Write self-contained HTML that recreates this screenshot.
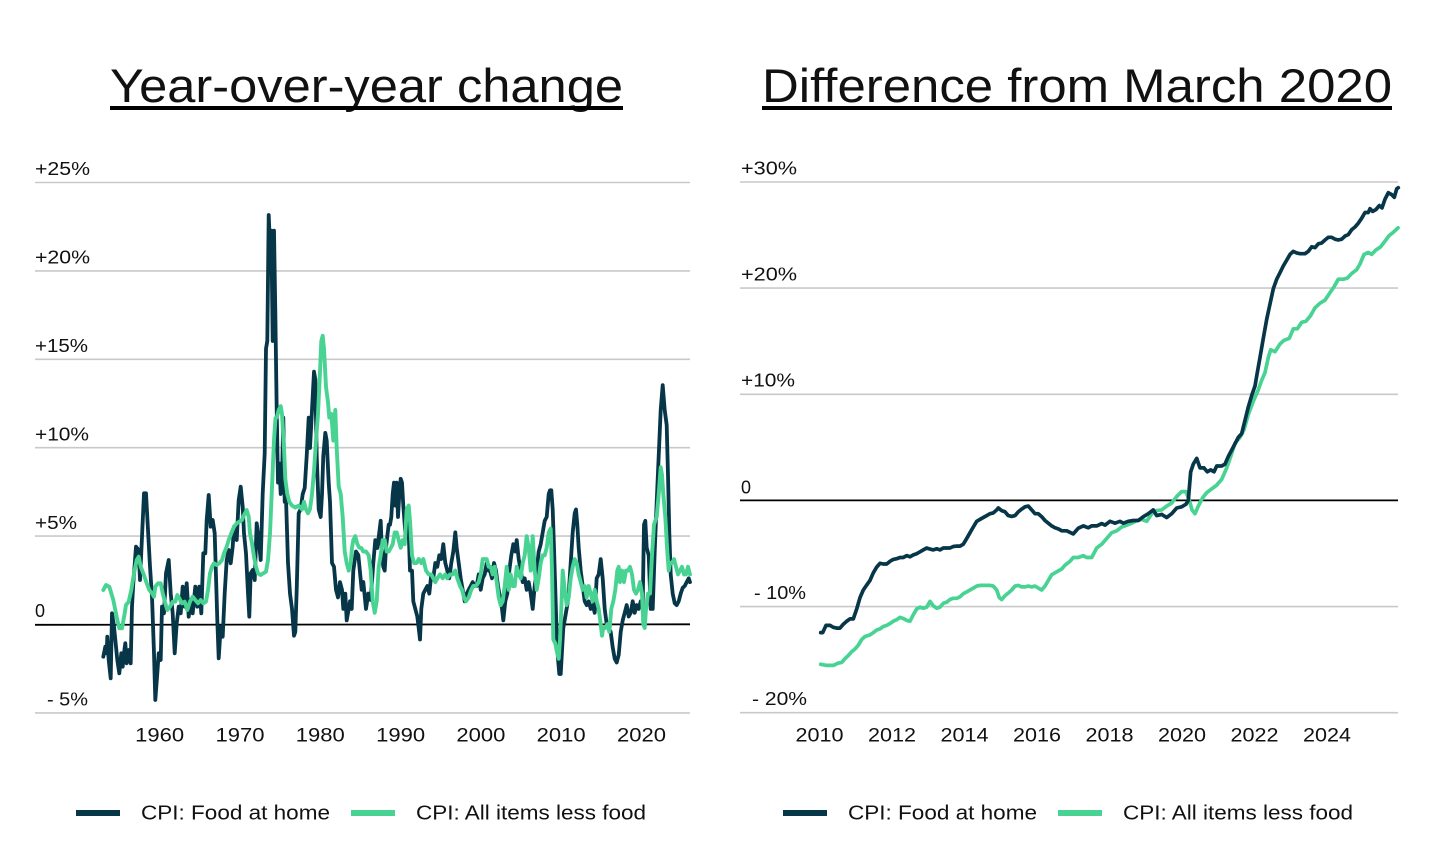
<!DOCTYPE html>
<html>
<head>
<meta charset="utf-8">
<style>
  html, body { margin: 0; padding: 0; background: #ffffff; }
  svg { display: block; }
  text { font-family: "Liberation Sans", "DejaVu Sans", sans-serif; fill: #111; }
</style>
</head>
<body>
<svg width="1450" height="850" viewBox="0 0 1450 850" xmlns="http://www.w3.org/2000/svg">
  <rect x="0" y="0" width="1450" height="850" fill="#ffffff"/>

  <!-- Titles -->
  <text x="110" y="102" font-size="47" textLength="513" lengthAdjust="spacingAndGlyphs">Year-over-year change</text>
  <rect x="110" y="106" width="513" height="4" fill="#000"/>
  <text x="762" y="102" font-size="47" textLength="630" lengthAdjust="spacingAndGlyphs">Difference from March 2020</text>
  <rect x="762" y="106" width="630" height="4" fill="#000"/>

  <!-- LEFT CHART gridlines -->
  <g stroke="#c9c9c9" stroke-width="1.6">
    <line x1="35" y1="182.5" x2="690" y2="182.5"/>
    <line x1="35" y1="270.9" x2="690" y2="270.9"/>
    <line x1="35" y1="359.3" x2="690" y2="359.3"/>
    <line x1="35" y1="447.7" x2="690" y2="447.7"/>
    <line x1="35" y1="536.1" x2="690" y2="536.1"/>
    <line x1="35" y1="712.9" x2="690" y2="712.9"/>
  </g>
  <line x1="35" y1="624.8" x2="690" y2="624.3" stroke="#000" stroke-width="1.8"/>

  <!-- LEFT y labels -->
  <g font-size="18">
    <text x="35" y="175" textLength="55" lengthAdjust="spacingAndGlyphs">+25%</text>
    <text x="35" y="263.5" textLength="55" lengthAdjust="spacingAndGlyphs">+20%</text>
    <text x="35" y="352" textLength="53" lengthAdjust="spacingAndGlyphs">+15%</text>
    <text x="35" y="440.5" textLength="54" lengthAdjust="spacingAndGlyphs">+10%</text>
    <text x="35" y="529" textLength="42" lengthAdjust="spacingAndGlyphs">+5%</text>
    <text x="35" y="617">0</text>
    <text x="47" y="705.5" textLength="41" lengthAdjust="spacingAndGlyphs">- 5%</text>
  </g>
  <!-- LEFT x labels -->
  <g font-size="19" text-anchor="middle">
    <text x="159.7" y="741.7" textLength="49" lengthAdjust="spacingAndGlyphs">1960</text>
    <text x="240" y="741.7" textLength="49" lengthAdjust="spacingAndGlyphs">1970</text>
    <text x="320.3" y="741.7" textLength="49" lengthAdjust="spacingAndGlyphs">1980</text>
    <text x="400.6" y="741.7" textLength="49" lengthAdjust="spacingAndGlyphs">1990</text>
    <text x="480.9" y="741.7" textLength="49" lengthAdjust="spacingAndGlyphs">2000</text>
    <text x="561.2" y="741.7" textLength="49" lengthAdjust="spacingAndGlyphs">2010</text>
    <text x="641.5" y="741.7" textLength="49" lengthAdjust="spacingAndGlyphs">2020</text>
  </g>

  <!-- LEFT series: food at home (dark) -->
  <polyline fill="none" stroke="#073649" stroke-width="3.8" stroke-linejoin="round" stroke-linecap="round" points="103.3,656.7 105.3,646.7 106.7,653.3 107.3,636.7 108.7,660 110.7,678.3 112,613.3 114,626.7 116,646.7 117.3,660 119.3,673.3 121.3,653.3 122.7,666.7 124,653.3 125.3,643.3 126.7,663.3 128.7,650 130.7,663.3 132,606.7 133.3,583.3 136,546.7 138.7,550 140,580 142,536.7 144,493.3 146,493.3 148,530 150,566.7 152,596.7 154,653.3 155.3,700 157.3,673.3 158.7,653.3 160.7,660 162,606.7 164,613.3 166,573.3 168.7,560 170.7,593.3 172.7,613.3 174.7,653.3 176.7,623.3 178.7,606.7 180.7,613.3 182.7,586.7 184.7,606.7 186.7,583.3 188.7,616.7 190.7,600 192.7,613.3 195.3,586.7 197.3,606.7 199.3,586.7 201.3,613.3 203.3,553.3 205.3,553.3 206.7,520 208.7,495 210.7,526.7 212.7,520 214.7,533.3 216,576.7 217.3,620 218.7,658.3 220.7,626.7 222.7,636.7 224.7,593.3 226.7,560 228.7,550 230.7,563.3 232.7,546.7 234,526.7 236.7,540 238.7,500 240.7,486.7 242.7,506.7 244,533.3 246,553.3 248,593.3 249.3,616.7 250.7,573.3 252.7,570 254.7,580 256.7,523.3 258.7,540 260.7,560 262.7,493.3 264.7,453.3 266,348.7 267.3,341 268.7,215 270,246 271.3,230.6 272.7,341 274,230.6 275.3,310.5 276.7,410 278,482.6 279.3,463.5 280.7,494 282,480 283.3,417.6 284.7,501.8 286,498 288,563 290,593.6 292,608.9 294,635.7 295.3,632 296.7,589.8 298.7,513.3 300.7,509 302.7,494.1 304.7,488 306.7,455.9 308.7,417.6 310,448 312,410 314,371.7 315.3,379.3 316.7,455.9 318.7,509.4 320.7,517 322,494.1 323.3,455.9 325.3,432.9 326.7,440.6 328.7,482.6 330,501.8 332,563 334,566.8 336,589.8 338,597.4 340,582.1 342,589.8 343.3,608.9 345.3,593.6 346.7,620.4 348.7,608.9 350,601.3 351.7,608.9 353.3,570.6 356,551.5 358.3,555 361.7,589.8 363.3,582 366,608.9 368.3,593.6 370.7,600 373.3,563 375.3,540.1 377.3,548 379.3,532.4 380.7,520.8 382,555.3 383.3,566.8 384.7,570.6 386,547.7 387.3,536.2 388.7,524.7 390,524.7 391.3,517 392.7,494.1 394,482.6 395.3,505.6 396.7,482.6 398,517 399.3,494.1 400.7,478.8 402,482.6 403.3,505.6 405.3,532.4 407.3,509.4 408.7,532 410,570.6 412,570.6 413.3,601.3 415.3,608.9 417.3,616.5 418.7,628 420,639.5 421.3,608.9 423.3,593.6 425.3,589.8 427.3,586 429.3,593.6 431.3,574.4 433.3,578 435.3,563 437.3,566.8 439.3,555.3 441.3,559 443.3,544.2 445.3,563 447.3,570.6 449.3,578.3 451.3,563 453.3,551.5 455.3,532.4 456.7,547.7 458.7,563 460.7,578.3 462.7,589.8 464.7,601.3 466.7,593.6 468.7,589.8 470.7,586 472.7,582.1 474.7,586 476.7,586 478.7,574.4 480.7,589.8 482.7,578.3 484.7,574.4 486.7,563 488.7,570.6 490,570.6 492,578.3 494,563 496,570.6 498,586 500,597.4 502,608.9 503.3,620.4 505.3,601.3 507.3,593.6 509.3,570.6 511.3,555.3 513.3,544.2 515.3,551.5 516.7,540.1 518.7,559.1 520.7,570.6 522.7,582.1 524.7,578.3 526.7,589.8 528.7,582.1 530.7,593.6 532.7,608.9 534.7,586 536.7,570.6 538.7,551.5 540.7,544.2 542.7,532.4 544.7,520.8 546.7,517 548.7,494.1 550,490.3 551.3,490.3 552.7,509.4 554,547.7 555.3,589.8 556.7,635.7 558,658.7 559.3,674 560.7,674 562,651 563.3,628 565.3,616.5 567.3,605 568.7,593.6 570.7,563 572.7,532.4 574.7,513.3 576,509.4 577.3,524.7 578.7,547.7 580.7,570.6 582.7,586 584.7,601.3 586.7,605.1 588.7,601.3 590.7,608.9 592.7,605.1 594.7,612.8 596.7,578.3 598.7,574.4 600.7,559.1 602.7,578.3 604.7,608.9 606.7,624.2 608.7,628 610.7,631.9 612.7,647.2 614.7,658.7 616.7,662.5 618.7,654.9 620.7,631.9 622.7,620.4 624.7,612.8 626.7,605.1 628.7,616.5 630.7,612.8 632.7,601.3 634.7,612.8 636.7,605.1 638.7,608.9 640.7,601.3 642.7,605.1 644,524.7 645.3,520.8 646.7,547.7 648.7,555.3 650.7,608.9 652.7,608.9 654.7,551.5 656.7,501.8 658.7,455.9 660.7,410 662.7,385.1 664.7,410 666.7,425.3 668,475 669.3,532.4 670.7,574.4 672.7,593.6 674.7,603.2 676.7,605.1 678.7,601.3 680.7,593.6 682.7,587.8 684.7,586 686.7,582.1 688.7,578.3 690,582.1"/>

  <!-- LEFT series: all items less food (green) -->
  <polyline fill="none" stroke="#48d393" stroke-width="3.9" stroke-linejoin="round" stroke-linecap="round" points="103.3,590 106,585 109.3,586.7 111.3,593.3 113.3,600 115.3,610 117.3,620 119.3,628.3 122,628.3 124.7,613.3 126,605 128.7,601.7 131.3,590 134,573.3 136.7,560 138.7,556.7 140.7,566.7 143.3,573.3 146.7,583.3 149.3,590 152,593.3 154,596.7 155.3,586.7 158,583.3 160.7,583.3 162.7,593.3 165.3,603.3 167.3,610 170,606.7 172.7,601.7 175.3,601.7 177.3,595 179.3,598.3 182,603.3 184.7,601.7 187.3,610 190,601.7 192.7,596.7 195.3,600 198,603.3 200.7,600 203.3,603.3 206,601.7 208,590 210,573.3 212,566.7 214,563.3 216.7,565 219.3,563.3 222,560 224,553.3 226.7,546.7 228.7,540 231.3,533.3 234,526.7 236.7,523.3 239.3,521.7 242,520 244,515 246.7,510 248.7,516.7 250,533.3 252,543.3 254,556.7 256,566.7 258,573.3 260.7,575 263.3,573.3 266,571.7 268,560 270,533.3 272,486.7 274,440 275.5,418 276.7,417.6 278.7,410 280.7,406.1 282,413.8 284,448.2 285.3,478.8 287.3,494.1 289.3,501.8 292,505.6 295.3,507.5 298.7,505.6 302,509.4 304,501.8 306,509.4 308,513.3 310,509 312,494.1 314,471.2 316,440.6 318,414.1 320,371.7 321.3,341 322.7,335.7 324,348.7 326,387 328,402.3 329.3,417.6 331.3,413.8 333.3,440.6 335.3,410 336.7,448.2 338.7,486.5 340.7,494.1 342.7,517 344.7,551.5 346.7,563 348.7,570.6 350.7,563 352,547.7 353.3,540.1 355.3,536.2 357.3,544 359.3,547.7 361.3,548 363.3,551.5 366,551.5 368.7,555.3 370.7,570.6 372.7,601.3 374.7,612.8 376.7,601.3 378.7,566.8 380.7,555.3 382.7,540.1 384.7,540.1 386.7,551.5 388.7,551.5 390.7,548 392.7,544.2 394.7,532.4 396.7,532.4 398.7,540.1 400.7,547.7 402.7,540.1 404.7,544.2 406.7,509.4 408.7,505.6 410,520.8 412,555.3 414,563 416.7,563 418.7,559 421.3,563 423.3,559 426,570.6 428.7,574.4 431.3,574.4 433.3,578.3 435.3,582.1 437.3,578.3 440,574.4 442.7,578.3 445.3,574.4 447.3,578.3 450,574.4 452.7,574.4 455.3,570.6 457.3,578.3 460,585.9 462,589.8 464,597.4 466,601.3 468.7,597.4 471.3,589.8 473.3,585.9 476,585.9 478.7,582.1 480.7,574.4 482.7,559.1 484.7,559.1 486.7,559.1 488.7,566.8 490.7,566.8 492.7,574.4 494.7,566.8 496.7,582 498.7,597.4 500.7,605.1 502.7,601.3 504.7,586 506.7,566.8 508.7,589.8 510.7,574.4 512.7,586 514.7,586 516.7,566.8 518.7,574.4 520.7,578.3 522.7,563 524.7,555.3 526.7,536.2 528.7,547.7 530.7,570.6 532.7,536.2 534.7,570.6 536.7,589.8 538.7,578.3 540.7,563 542.7,555.3 544.7,555.3 546.7,547.7 548.7,532.4 550.7,528.6 552,570.6 553.3,639.5 555.3,643.3 556.7,651 558.7,658.7 560,639.5 561.3,608.9 562.7,570.6 564.7,589.8 566.7,605.1 568.7,597.4 570.7,578.3 572.7,566.8 574.7,559.1 576.7,563 578.7,574.4 580.7,582.1 582.7,589.8 584.7,586 586.7,597.4 588.7,586 590.7,593.6 592.7,601.3 594.7,589.8 596.7,601.3 598.7,608.9 600.7,624.2 602,635.7 603.3,628 605.3,628 607.3,624.2 609.3,631.9 611.3,608.9 613.3,601.3 615.3,589.8 617.3,570.6 618.7,566.8 620,582.1 622,570.6 624,582.1 626,570.6 628,570.6 630,566.8 632,574.4 634,589.8 636,593.6 638,589.8 640,582.1 642,593.6 643.3,624.2 644.7,628 646,608.9 648,593.6 650,593.6 652,555.3 654,524.7 655.3,520.8 656.7,517 658.7,494.1 660.7,467.3 662,475 663.3,494.1 665.3,517 667.3,551.5 668.7,570.6 670,563 672,563 674,559.1 676,566.8 678,574.4 680,570.6 682,566.8 684,574.4 686,574.4 688,566.8 690,574.4"/>

  <!-- RIGHT CHART gridlines -->
  <g stroke="#c9c9c9" stroke-width="1.6">
    <line x1="740" y1="182" x2="1398" y2="182"/>
    <line x1="740" y1="288.1" x2="1398" y2="288.1"/>
    <line x1="740" y1="394.3" x2="1398" y2="394.3"/>
    <line x1="740" y1="606.6" x2="1398" y2="606.6"/>
    <line x1="740" y1="712.7" x2="1398" y2="712.7"/>
  </g>
  <line x1="740" y1="500.4" x2="1398" y2="500.4" stroke="#000" stroke-width="1.8"/>

  <!-- RIGHT y labels -->
  <g font-size="18">
    <text x="741" y="174.5" textLength="56" lengthAdjust="spacingAndGlyphs">+30%</text>
    <text x="741" y="280.5" textLength="56" lengthAdjust="spacingAndGlyphs">+20%</text>
    <text x="741" y="386.7" textLength="54" lengthAdjust="spacingAndGlyphs">+10%</text>
    <text x="741" y="493.5">0</text>
    <text x="754" y="599" textLength="52" lengthAdjust="spacingAndGlyphs">- 10%</text>
    <text x="752" y="705.2" textLength="55" lengthAdjust="spacingAndGlyphs">- 20%</text>
  </g>
  <!-- RIGHT x labels -->
  <g font-size="19" text-anchor="middle">
    <text x="819.5" y="741.7" textLength="48" lengthAdjust="spacingAndGlyphs">2010</text>
    <text x="892" y="741.7" textLength="48" lengthAdjust="spacingAndGlyphs">2012</text>
    <text x="964.5" y="741.7" textLength="48" lengthAdjust="spacingAndGlyphs">2014</text>
    <text x="1037" y="741.7" textLength="48" lengthAdjust="spacingAndGlyphs">2016</text>
    <text x="1109.5" y="741.7" textLength="48" lengthAdjust="spacingAndGlyphs">2018</text>
    <text x="1182" y="741.7" textLength="48" lengthAdjust="spacingAndGlyphs">2020</text>
    <text x="1254.5" y="741.7" textLength="48" lengthAdjust="spacingAndGlyphs">2022</text>
    <text x="1327" y="741.7" textLength="48" lengthAdjust="spacingAndGlyphs">2024</text>
  </g>

  <!-- RIGHT series: green -->
  <polyline fill="none" stroke="#48d393" stroke-width="3.7" stroke-linejoin="round" stroke-linecap="round" points="820.7,664.3 826.7,665.4 833.3,665.4 838.3,663.1 841.7,662.4 845,658.6 848.3,655.5 851.7,651.7 855,649 858.3,645.2 861.7,639.5 865,636.5 870,634.9 873.3,632.6 876.7,630 880,628.9 883.3,626.5 886.7,625.4 890,623.5 893.3,621.2 896.7,619.7 900,617.4 903.3,618.5 906.7,620.4 910,621.2 913.3,614.7 916.7,609 920,607.1 923.3,608.2 926.7,607.1 930,601.4 933.3,605.9 936.7,608.2 940,607.1 943.3,603.3 946.7,602.2 950,599.5 953.3,598.3 956.7,598.3 960,596.8 963.3,593.8 966.7,591.9 970,590 973.3,588.1 976.7,586.1 980,585.4 983.3,585.4 986.7,585.4 990,585.4 993.3,586.1 996.7,590 999.3,597.6 1001.7,599.5 1005,595.7 1008.3,593 1011.7,590 1015,586.1 1018.3,585.4 1021.7,586.9 1025,586.9 1028.3,586.1 1031.7,586.9 1035,586.1 1038.3,588.1 1041.7,590 1045,586.1 1048.3,580.4 1051.7,574.7 1055,572.8 1058.3,570.9 1061.7,569 1065,565.2 1070,561.3 1073.3,557.5 1078.3,557.5 1083.3,555.6 1086.7,557.5 1091.7,557.5 1096.7,548 1101.7,544.2 1106.7,538.5 1111.7,532.7 1116.7,530.8 1121.7,527 1126.7,525.1 1131.7,523.2 1136.7,520.5 1141.7,519.4 1146.7,521.3 1151.7,513.7 1156.7,510.6 1161.7,509.9 1166.7,506.1 1171.7,503 1176.7,496.5 1181.7,491.6 1186,491.6 1189.3,500.3 1192,509.9 1195,513.7 1198.3,506.1 1202.7,497.7 1206.7,492.7 1211.7,488.9 1216.7,485.1 1221.7,479.4 1226.7,467.9 1230.7,456.5 1235,443.2 1240,437.4 1244,429.8 1248.3,414.6 1253.3,401.2 1258.3,389.8 1261.7,380.3 1265,372.6 1268.3,357.4 1270.7,349.8 1275,351.7 1280,344 1284,340.3 1289.3,338.3 1293.3,328.8 1297.3,328.8 1301.7,322.3 1306,321.2 1310.7,315.4 1315,307.8 1320,303.2 1325,300.2 1330,292.6 1334,286.8 1338.3,279.2 1343.3,279.2 1347.3,278.1 1351.7,273.5 1356.7,269.7 1360,264 1364,254.4 1368.3,252.5 1371.7,254.4 1376,249.9 1380.7,246.8 1385,241.1 1389.3,235.4 1393.3,232.3 1398,227.8"/>

  <!-- RIGHT series: dark -->
  <polyline fill="none" stroke="#073649" stroke-width="3.7" stroke-linejoin="round" stroke-linecap="round" points="820.7,632.6 822.7,632.6 826,625.4 830,625.4 833.3,627.3 836.7,628.1 840,628.1 843.3,624.2 846.7,621.2 850,618.9 853.3,618.9 856.7,609 860,597.6 863.3,590 866.7,585 870,580.4 873.3,572.8 876.7,567.1 880,563.3 883.3,564 886.7,564 890,561.3 893.3,559.4 896.7,558.7 900,557.5 903.3,557.5 906.7,555.6 910,556.8 913.3,554.9 916.7,553.7 920,551.8 923.3,549.9 926.7,548 930,549.1 933.3,549.9 936.7,548.8 940,549.9 943.3,548 946.7,548 950,548 953.3,546.5 956.7,546.1 960,546.1 963.3,544.2 966.7,538.5 970,532.7 973.3,527 976.7,521.3 980,519.4 983.3,517.5 986.7,515.6 990,513.7 993.3,512.9 996.7,509.9 998.3,508 1001.7,510.6 1005,511.8 1008.3,515.6 1011.7,516.4 1015,515.6 1018.3,511.8 1021.7,509.1 1025,506.8 1028.3,506.1 1031.7,509.9 1035,513.7 1038.3,513.7 1041.7,516.7 1045,520.5 1048.3,523.2 1051.7,525.9 1055,527.8 1058.3,528.9 1061.7,530.8 1066.7,530.8 1073.3,533.9 1078.3,528.2 1083.3,525.9 1088.3,527.8 1091.7,525.9 1096.7,525.9 1101.7,523.6 1105,525.1 1110,521.3 1115,523.2 1120,521.3 1123.3,523.2 1128.3,521.3 1133.3,520.5 1138.3,520.5 1143.3,516.7 1148.3,513.7 1153.3,509.9 1156.7,515.6 1161.7,514.4 1166.7,517.5 1171.7,513.7 1176.7,508 1181.7,506.8 1186,504.2 1188.3,500.3 1190.7,471.8 1193.3,464.1 1196.7,458.4 1200,467.9 1204,467.9 1207.3,471.8 1210.7,469.9 1214,471.8 1216.7,466 1221.7,466 1225,464.1 1228.3,456.5 1233.3,447 1238.3,437.4 1241.7,433.6 1245,420.3 1248.3,407 1251.7,395.5 1255,386 1257.3,372.6 1260,357.4 1263.3,338.3 1266.7,319.3 1270,304 1273.3,288.8 1276.7,279.2 1280,272.7 1283.3,265.9 1286.7,260.2 1290,254.4 1293.3,251.4 1296.7,252.9 1300,253.7 1305,253.7 1308.3,251.4 1311.7,246.8 1315,247.6 1318.3,243.8 1321.7,243 1325,240 1328.3,237.3 1331.7,237.3 1335,239.2 1338.3,240 1341.7,239.2 1345,236.1 1348.3,234.6 1351.7,229.7 1355,227 1358.3,223.2 1361.7,218.2 1365,212.5 1368.3,212.5 1370,208.7 1372.7,211.4 1376,209.5 1379.3,205.6 1382,207.9 1385,199.2 1388.3,192.7 1391.7,194.6 1394.3,197.3 1396.7,188.9 1398.3,187.7"/>

  <!-- LEGENDS -->
  <g>
    <rect x="76" y="810" width="44" height="6" fill="#073649"/>
    <text x="141" y="819.5" font-size="20" textLength="189" lengthAdjust="spacingAndGlyphs">CPI: Food at home</text>
    <rect x="351" y="810" width="44" height="6" fill="#48d393"/>
    <text x="416" y="819.5" font-size="20" textLength="230" lengthAdjust="spacingAndGlyphs">CPI: All items less food</text>

    <rect x="783" y="810" width="44" height="6" fill="#073649"/>
    <text x="848" y="819.5" font-size="20" textLength="189" lengthAdjust="spacingAndGlyphs">CPI: Food at home</text>
    <rect x="1058" y="810" width="44" height="6" fill="#48d393"/>
    <text x="1123" y="819.5" font-size="20" textLength="230" lengthAdjust="spacingAndGlyphs">CPI: All items less food</text>
  </g>
</svg>
</body>
</html>
